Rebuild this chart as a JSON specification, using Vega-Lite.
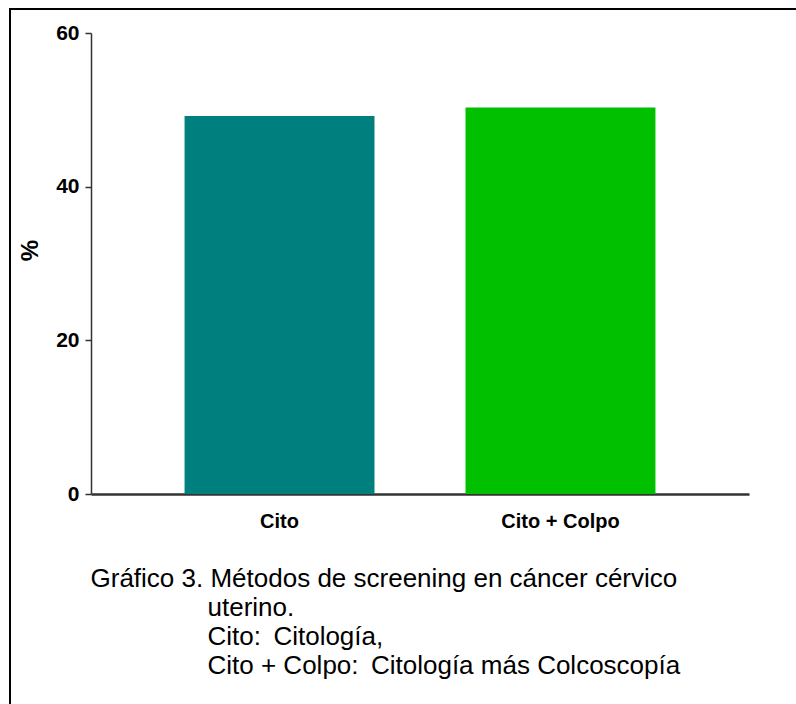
{
  "$schema": "https://vega.github.io/schema/vega-lite/v6.json",
  "autosize": "none",
  "padding": {"left": 10, "top": 9, "right": -2, "bottom": -2},
  "width": 788,
  "height": 697,
  "background": "white",
  "config": {
    "view": {"stroke": "#000000", "strokeWidth": 2},
    "font": "Liberation Sans, Arial, sans-serif"
  },
  "data": {
    "values": [
      {"metodo": "Cito", "pct": 49.2},
      {"metodo": "Cito + Colpo", "pct": 50.3}
    ]
  },
  "mark": {"type": "bar"},
  "encoding": {
    "x": {
      "field": "metodo",
      "type": "nominal",
      "sort": null,
      "scale": {"range": [81, 739], "paddingInner": 0.324, "paddingOuter": 0.333},
      "axis": {
        "orient": "bottom",
        "offset": -212,
        "labelAngle": 0,
        "labelFont": "Liberation Sans, Arial, sans-serif",
        "labelFontWeight": "bold",
        "labelFontSize": 20,
        "labelColor": "#000000",
        "labelPadding": 17,
        "ticks": false,
        "tickSize": 0,
        "domainColor": "#333333",
        "domainWidth": 2.5,
        "title": [
          "Gráfico 3. Métodos de screening en cáncer cérvico",
          "\u2060\u2003\u2003\u2003\u2003\u2002uterino.",
          "\u2060\u2003\u2003\u2003\u2003\u2002Cito:\u2009 Citología,",
          "\u2060\u2003\u2003\u2003\u2003\u2002Cito + Colpo:\u2009 Citología más Colcoscopía"
        ],
        "titleFont": "Liberation Sans, Arial, sans-serif",
        "titleFontSize": 26,
        "titleFontWeight": "normal",
        "titleColor": "#000000",
        "titleAlign": "left",
        "titleAnchor": "start",
        "titleBaseline": "alphabetic",
        "titleLineHeight": 29,
        "titleX": 80,
        "titleY": 92
      }
    },
    "y": {
      "field": "pct",
      "type": "quantitative",
      "scale": {"domain": [0, 60], "range": [485, 24], "nice": false},
      "axis": {
        "orient": "left",
        "offset": -81,
        "values": [0, 20, 40, 60],
        "grid": false,
        "labelFont": "Liberation Sans, Arial, sans-serif",
        "labelFontWeight": "bold",
        "labelFontSize": 21,
        "labelColor": "#000000",
        "labelPadding": 6,
        "tickSize": 6,
        "tickColor": "#333333",
        "tickWidth": 1.5,
        "domainColor": "#333333",
        "domainWidth": 1.5,
        "title": "%",
        "titleFont": "Liberation Sans, Arial, sans-serif",
        "titleFontSize": 24,
        "titleFontWeight": "bold",
        "titleColor": "#000000",
        "titleAngle": 270,
        "titleBaseline": "middle",
        "titleX": -61,
        "titleY": 241
      }
    },
    "color": {
      "field": "metodo",
      "type": "nominal",
      "sort": null,
      "scale": {"range": ["#007f7f", "#00c000"]},
      "legend": null
    }
  }
}
